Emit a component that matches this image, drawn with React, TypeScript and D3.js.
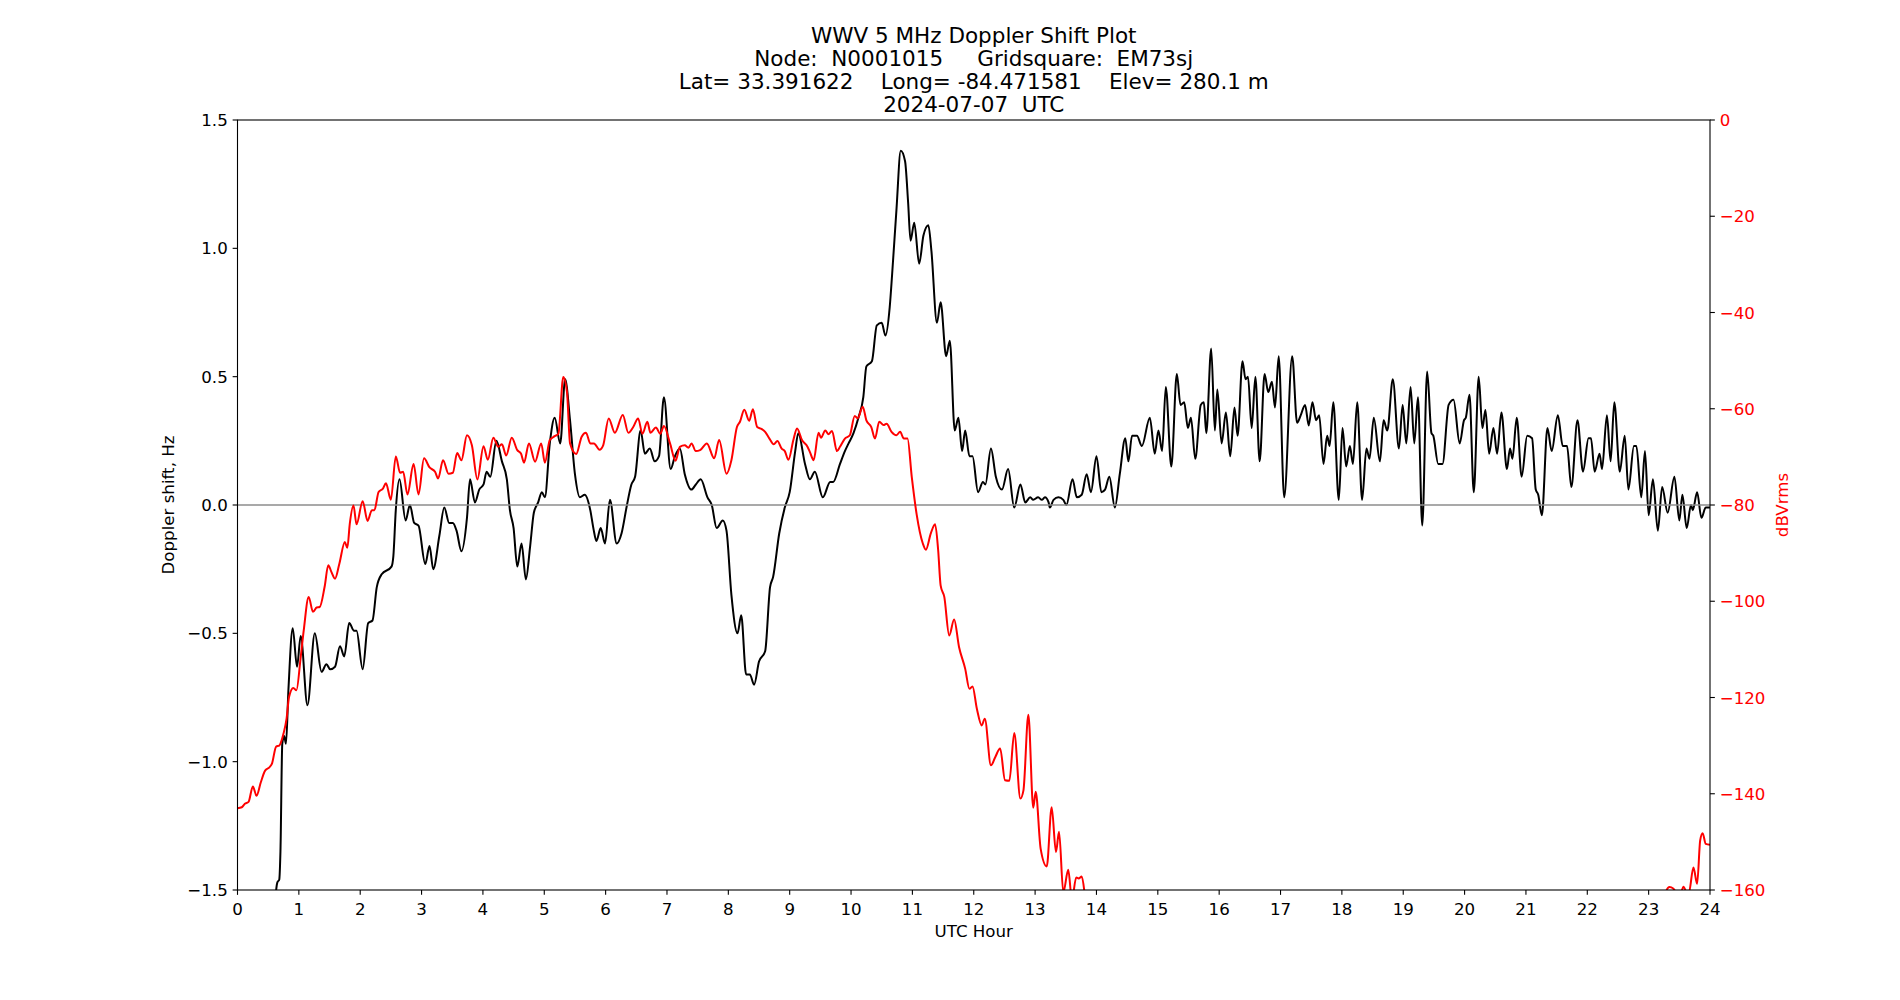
import React from 'react';
import * as d3 from 'd3';

// Doppler shift trace (black, left axis): UTC hour / Hz
const dopplerHours = [
  0.60, 0.63, 0.65, 0.68, 0.70, 0.73, 0.76, 0.79, 0.83, 0.90, 0.97, 1.03, 1.14, 1.26, 1.37, 1.45, 1.51, 1.59, 1.67, 1.74,
  1.82, 1.90, 1.94, 2.04, 2.13, 2.20, 2.27, 2.35, 2.51, 2.54, 2.58, 2.64, 2.74, 2.81, 2.88, 2.95, 3.06, 3.13, 3.19, 3.29,
  3.37, 3.45, 3.51, 3.57, 3.65, 3.74, 3.79, 3.87, 3.94, 4.01, 4.06, 4.12, 4.22, 4.31, 4.39, 4.44, 4.50, 4.56, 4.63, 4.70,
  4.77, 4.83, 4.90, 4.96, 5.01, 5.09, 5.17, 5.26, 5.34, 5.42, 5.50, 5.58, 5.66, 5.75, 5.80, 5.85, 5.92, 5.99, 6.07, 6.18,
  6.26, 6.34, 6.42, 6.48, 6.57, 6.64, 6.72, 6.80, 6.87, 6.95, 7.06, 7.13, 7.21, 7.29, 7.40, 7.47, 7.55, 7.66, 7.73, 7.81,
  7.91, 7.97, 8.05, 8.15, 8.21, 8.29, 8.35, 8.42, 8.50, 8.60, 8.68, 8.73, 8.83, 8.92, 9.00, 9.09, 9.14, 9.25, 9.33, 9.41,
  9.54, 9.66, 9.71, 9.82, 9.90, 9.96, 10.04, 10.12, 10.20, 10.25, 10.34, 10.42, 10.50, 10.56, 10.63, 10.67, 10.74, 10.81, 10.88, 10.93,
  10.97, 11.03, 11.11, 11.18, 11.26, 11.31, 11.40, 11.46, 11.55, 11.61, 11.69, 11.75, 11.81, 11.86, 11.93, 11.98, 12.07, 12.15, 12.19, 12.28,
  12.36, 12.46, 12.56, 12.66, 12.76, 12.84, 12.92, 12.97, 13.05, 13.11, 13.16, 13.22, 13.24, 13.30, 13.38, 13.46, 13.51, 13.61, 13.68, 13.76,
  13.84, 13.91, 14.00, 14.08, 14.14, 14.21, 14.30, 14.38, 14.47, 14.52, 14.58, 14.66, 14.74, 14.87, 14.95, 15.01, 15.07, 15.13, 15.22, 15.31,
  15.37, 15.43, 15.49, 15.54, 15.61, 15.70, 15.75, 15.79, 15.87, 15.93, 15.97, 16.04, 16.11, 16.18, 16.25, 16.30, 16.38, 16.43, 16.47, 16.53,
  16.59, 16.66, 16.74, 16.80, 16.86, 16.91, 16.97, 17.06, 17.19, 17.27, 17.33, 17.40, 17.46, 17.52, 17.58, 17.63, 17.70, 17.76, 17.80, 17.86,
  17.95, 18.01, 18.07, 18.13, 18.18, 18.25, 18.33, 18.40, 18.45, 18.52, 18.62, 18.68, 18.74, 18.83, 18.93, 18.99, 19.05, 19.12, 19.18, 19.24,
  19.31, 19.39, 19.46, 19.49, 19.57, 19.64, 19.74, 19.82, 19.92, 19.99, 20.02, 20.08, 20.15, 20.23, 20.29, 20.34, 20.40, 20.47, 20.53, 20.60,
  20.69, 20.74, 20.78, 20.85, 20.93, 21.02, 21.10, 21.16, 21.20, 21.26, 21.35, 21.42, 21.52, 21.60, 21.67, 21.74, 21.84, 21.93, 22.02, 22.06,
  22.12, 22.20, 22.24, 22.32, 22.38, 22.44, 22.53, 22.61, 22.67, 22.76, 22.80, 22.88, 22.94, 23.00, 23.07, 23.15, 23.22, 23.31, 23.42, 23.50,
  23.55, 23.62, 23.69, 23.72, 23.79, 23.86, 23.93, 24.00,
];
const dopplerHz = [
  -1.60, -1.50, -1.47, -1.46, -1.35, -0.93, -0.90, -0.93, -0.72, -0.48, -0.63, -0.51, -0.78, -0.50, -0.65, -0.62, -0.64, -0.63, -0.55, -0.59,
  -0.46, -0.49, -0.49, -0.64, -0.46, -0.45, -0.32, -0.27, -0.24, -0.20, -0.02, 0.10, -0.06, 0.00, -0.07, -0.08, -0.23, -0.16, -0.25, -0.12,
  -0.01, -0.07, -0.07, -0.10, -0.18, -0.05, 0.10, 0.01, 0.06, 0.08, 0.13, 0.11, 0.25, 0.17, 0.10, -0.02, -0.09, -0.24, -0.15, -0.29,
  -0.16, -0.03, 0.01, 0.05, 0.03, 0.24, 0.34, 0.24, 0.49, 0.33, 0.12, 0.03, 0.04, -0.02, -0.09, -0.14, -0.09, -0.15, 0.02, -0.15,
  -0.11, -0.01, 0.08, 0.11, 0.29, 0.20, 0.22, 0.17, 0.19, 0.42, 0.14, 0.19, 0.22, 0.12, 0.06, 0.08, 0.10, 0.03, 0.00, -0.09,
  -0.06, -0.10, -0.35, -0.50, -0.43, -0.66, -0.66, -0.70, -0.61, -0.57, -0.32, -0.28, -0.11, -0.01, 0.05, 0.21, 0.28, 0.16, 0.10, 0.13,
  0.03, 0.09, 0.09, 0.16, 0.21, 0.24, 0.28, 0.34, 0.42, 0.54, 0.56, 0.70, 0.71, 0.66, 0.77, 0.90, 1.15, 1.38, 1.34, 1.18,
  1.03, 1.10, 0.94, 1.05, 1.09, 0.99, 0.71, 0.79, 0.58, 0.64, 0.29, 0.34, 0.21, 0.29, 0.19, 0.19, 0.05, 0.09, 0.08, 0.22,
  0.11, 0.06, 0.14, -0.01, 0.08, 0.01, 0.03, 0.02, 0.03, 0.02, 0.03, 0.01, -0.01, 0.02, 0.03, 0.02, 0.00, 0.10, 0.03, 0.04,
  0.12, 0.05, 0.19, 0.05, 0.06, 0.11, -0.01, 0.12, 0.26, 0.17, 0.27, 0.27, 0.23, 0.34, 0.20, 0.29, 0.21, 0.46, 0.15, 0.51,
  0.39, 0.40, 0.30, 0.34, 0.18, 0.39, 0.40, 0.28, 0.61, 0.29, 0.45, 0.24, 0.36, 0.19, 0.38, 0.27, 0.56, 0.49, 0.50, 0.30,
  0.50, 0.17, 0.51, 0.44, 0.48, 0.38, 0.58, 0.03, 0.58, 0.32, 0.35, 0.39, 0.31, 0.40, 0.33, 0.35, 0.16, 0.27, 0.23, 0.40,
  0.02, 0.30, 0.15, 0.23, 0.16, 0.40, 0.02, 0.22, 0.18, 0.34, 0.17, 0.33, 0.29, 0.49, 0.22, 0.39, 0.24, 0.46, 0.24, 0.42,
  -0.08, 0.52, 0.28, 0.27, 0.16, 0.16, 0.39, 0.41, 0.24, 0.33, 0.34, 0.43, 0.05, 0.50, 0.30, 0.37, 0.20, 0.30, 0.20, 0.36,
  0.14, 0.22, 0.18, 0.34, 0.11, 0.27, 0.26, 0.06, 0.04, -0.04, 0.30, 0.21, 0.35, 0.23, 0.23, 0.07, 0.33, 0.13, 0.26, 0.26,
  0.13, 0.20, 0.14, 0.35, 0.17, 0.40, 0.13, 0.27, 0.06, 0.23, 0.23, 0.03, 0.21, -0.04, 0.10, -0.10, 0.07, -0.03, 0.11, -0.06,
  0.04, -0.09, 0.00, -0.02, 0.05, -0.05, -0.01, -0.01,
];

// Received power (red, right axis): UTC hour / dBVrms
const powerHours = [
  0.00, 0.07, 0.12, 0.18, 0.25, 0.31, 0.38, 0.45, 0.52, 0.56, 0.63, 0.68, 0.75, 0.80, 0.84, 0.91, 0.96, 1.03, 1.08, 1.16,
  1.23, 1.29, 1.34, 1.42, 1.48, 1.53, 1.59, 1.66, 1.75, 1.79, 1.83, 1.89, 1.94, 2.04, 2.12, 2.19, 2.23, 2.30, 2.37, 2.42,
  2.50, 2.58, 2.65, 2.70, 2.77, 2.87, 2.95, 3.04, 3.13, 3.22, 3.27, 3.35, 3.44, 3.51, 3.58, 3.65, 3.74, 3.82, 3.91, 4.01,
  4.08, 4.17, 4.25, 4.31, 4.38, 4.47, 4.56, 4.62, 4.67, 4.75, 4.85, 4.95, 5.01, 5.09, 5.17, 5.23, 5.31, 5.37, 5.42, 5.52,
  5.61, 5.68, 5.75, 5.81, 5.90, 5.96, 6.05, 6.15, 6.28, 6.37, 6.45, 6.53, 6.60, 6.68, 6.73, 6.82, 6.89, 6.95, 7.05, 7.14,
  7.21, 7.29, 7.35, 7.40, 7.47, 7.54, 7.65, 7.77, 7.85, 7.97, 8.05, 8.14, 8.19, 8.26, 8.34, 8.40, 8.47, 8.54, 8.60, 8.67,
  8.74, 8.80, 8.87, 8.92, 8.98, 9.06, 9.12, 9.20, 9.29, 9.33, 9.39, 9.47, 9.51, 9.58, 9.63, 9.69, 9.77, 9.82, 9.90, 9.98,
  10.06, 10.11, 10.19, 10.25, 10.33, 10.39, 10.46, 10.53, 10.58, 10.66, 10.74, 10.80, 10.86, 10.92, 10.99, 11.07, 11.17, 11.22, 11.30, 11.37,
  11.42, 11.46, 11.52, 11.60, 11.68, 11.76, 11.86, 11.93, 11.98, 12.05, 12.13, 12.18, 12.28, 12.35, 12.43, 12.51, 12.58, 12.66, 12.76, 12.81,
  12.89, 12.97, 13.01, 13.09, 13.19, 13.27, 13.34, 13.39, 13.46, 13.54, 13.60, 13.67, 13.71, 13.76, 13.82, 13.90, 23.20, 23.29, 23.34, 23.40,
  23.45, 23.51, 23.57, 23.62, 23.66, 23.73, 23.79, 23.84, 23.88, 23.93, 24.00,
];
const powerDb = [
  -143.0, -142.8, -142.1, -141.7, -138.5, -140.4, -137.6, -135.2, -134.5, -133.8, -130.2, -130.0, -127.5, -124.4, -119.9, -118.0, -118.5, -111.6, -106.0, -99.1,
  -102.2, -101.3, -101.2, -97.0, -92.5, -93.9, -95.3, -92.2, -87.7, -88.9, -83.9, -80.1, -84.0, -79.2, -83.3, -81.1, -81.1, -77.3, -76.6, -75.5,
  -78.9, -69.9, -73.3, -73.1, -77.8, -71.5, -77.8, -70.3, -72.2, -73.1, -74.5, -70.7, -73.5, -73.3, -69.2, -70.7, -65.5, -67.6, -74.7, -67.8,
  -70.6, -66.0, -67.9, -67.4, -69.7, -66.0, -68.6, -69.3, -71.2, -67.2, -71.0, -67.2, -71.2, -66.5, -65.7, -65.2, -53.4, -56.5, -67.2, -69.4,
  -65.8, -65.0, -67.2, -67.2, -68.5, -67.6, -62.0, -65.0, -61.3, -65.0, -63.8, -62.0, -65.2, -62.7, -65.0, -63.9, -65.2, -63.6, -67.2, -70.8,
  -67.9, -67.6, -68.1, -67.2, -68.8, -68.6, -67.2, -70.3, -66.5, -73.5, -70.7, -63.8, -62.7, -60.2, -62.5, -60.1, -63.8, -64.2, -64.8, -66.2,
  -67.4, -66.7, -68.3, -68.8, -70.6, -66.5, -64.1, -66.5, -67.9, -69.0, -70.7, -65.0, -66.0, -64.5, -65.3, -64.6, -68.8, -67.9, -66.2, -65.5,
  -61.5, -62.0, -59.6, -62.4, -63.8, -66.2, -62.7, -63.4, -63.1, -64.8, -65.5, -64.8, -66.2, -66.2, -74.2, -82.0, -88.0, -89.3, -85.9, -84.0,
  -89.4, -96.7, -99.1, -107.1, -103.8, -109.5, -114.0, -118.2, -117.7, -122.3, -125.8, -124.4, -134.1, -132.4, -130.6, -137.2, -137.3, -127.4, -141.0, -139.3,
  -123.6, -142.9, -139.6, -151.4, -155.1, -142.8, -152.1, -147.9, -160.5, -155.8, -162.0, -157.4, -157.6, -157.2, -162.0, -170.0, -170.0, -160.1, -159.4, -159.7,
  -160.5, -161.0, -159.3, -160.5, -160.3, -155.3, -158.7, -149.7, -148.2, -150.4, -150.6,
];

const hourTicks = [0, 1, 2, 3, 4, 5, 6, 7, 8, 9, 10, 11, 12, 13, 14, 15, 16, 17, 18, 19, 20, 21, 22, 23, 24];
const dopplerTicks = [-1.5, -1.0, -0.5, 0.0, 0.5, 1.0, 1.5];
const powerTicks = [0, -20, -40, -60, -80, -100, -120, -140, -160];

const titleLines = [
  'WWV 5 MHz Doppler Shift Plot',
  'Node:  N0001015     Gridsquare:  EM73sj',
  'Lat= 33.391622    Long= -84.471581    Elev= 280.1 m',
  '2024-07-07  UTC',
];

const W = 1900;
const H = 1000;
const plot = { left: 237.5, right: 1710, top: 120, bottom: 890 };
const FONT = '"DejaVu Sans", sans-serif';
const TICK = 4.86;

const minus = (s: string) => s.replace('-', '\u2212');

export default function App() {
  const x = d3.scaleLinear().domain([0, 24]).range([plot.left, plot.right]);
  const yHz = d3.scaleLinear().domain([-1.5, 1.5]).range([plot.bottom, plot.top]);
  const yDb = d3.scaleLinear().domain([-160, 0]).range([plot.bottom, plot.top]);

  const dopplerLine = d3.line<number>()
    .x((_, i) => x(dopplerHours[i]))
    .y(d => yHz(d))
    .curve(d3.curveMonotoneX);
  const powerLine = d3.line<number>()
    .x((_, i) => x(powerHours[i]))
    .y(d => yDb(d))
    .curve(d3.curveMonotoneX);

  const fmtHz = d3.format('.1f');

  return (
    <svg width={W} height={H} style={{ position: 'absolute', left: 0, top: 0, background: '#fff' }}
      fontFamily={FONT}>
      <defs>
        <clipPath id="plot-clip">
          <rect x={plot.left} y={plot.top} width={plot.right - plot.left} height={plot.bottom - plot.top} />
        </clipPath>
      </defs>

      {/* title */}
      <text x={(plot.left + plot.right) / 2} textAnchor="middle" fontSize={21.5} fill="#000" style={{ whiteSpace: 'pre' }}>
        {titleLines.map((t, i) => (
          <tspan key={i} x={(plot.left + plot.right) / 2} y={43 + i * 23}>{t}</tspan>
        ))}
      </text>

      <g clipPath="url(#plot-clip)">
        <path d={dopplerLine(dopplerHz) || ''} fill="none" stroke="#000" strokeWidth={2} strokeLinejoin="round" />
        <line x1={plot.left} x2={plot.right} y1={yHz(0)} y2={yHz(0)} stroke="#8c8c8c" strokeWidth={1.3} />
        <path d={powerLine(powerDb) || ''} fill="none" stroke="#ff0000" strokeWidth={2} strokeLinejoin="round" />
      </g>

      {/* frame */}
      <rect x={plot.left} y={plot.top} width={plot.right - plot.left} height={plot.bottom - plot.top}
        fill="none" stroke="#000" strokeWidth={1.1} />

      {/* x axis */}
      {hourTicks.map(t => (
        <g key={'x' + t}>
          <line x1={x(t)} x2={x(t)} y1={plot.bottom} y2={plot.bottom + TICK} stroke="#000" strokeWidth={1.1} />
          <text x={x(t)} y={914.5} textAnchor="middle" fontSize={16.67}>{t}</text>
        </g>
      ))}
      <text x={(plot.left + plot.right) / 2} y={937} textAnchor="middle" fontSize={16.67}>UTC Hour</text>

      {/* left axis */}
      {dopplerTicks.map(t => (
        <g key={'l' + t}>
          <line x1={plot.left - TICK} x2={plot.left} y1={yHz(t)} y2={yHz(t)} stroke="#000" strokeWidth={1.1} />
          <text x={plot.left - 2 * TICK} y={yHz(t) + 6} textAnchor="end" fontSize={16.67}>{minus(fmtHz(t))}</text>
        </g>
      ))}
      <text transform={`translate(174,${(plot.top + plot.bottom) / 2}) rotate(-90)`} textAnchor="middle" fontSize={16.67}>
        Doppler shift, Hz
      </text>

      {/* right axis */}
      {powerTicks.map(t => (
        <g key={'r' + t}>
          <line x1={plot.right} x2={plot.right + TICK} y1={yDb(t)} y2={yDb(t)} stroke="#000" strokeWidth={1.1} />
          <text x={plot.right + 2 * TICK} y={yDb(t) + 6} textAnchor="start" fontSize={16.67} fill="#ff0000">{minus(String(t))}</text>
        </g>
      ))}
      <text transform={`translate(1788,${(plot.top + plot.bottom) / 2}) rotate(-90)`} textAnchor="middle" fontSize={16.67}
        fill="#ff0000">
        dBVrms
      </text>
    </svg>
  );
}
